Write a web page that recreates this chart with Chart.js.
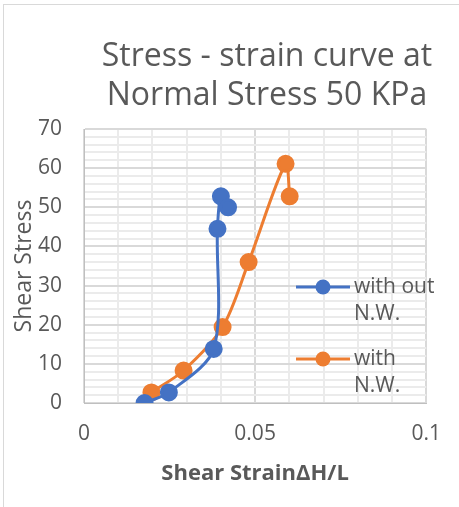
<!DOCTYPE html>
<html>
<head>
<meta charset="utf-8">
<script src="https://cdn.jsdelivr.net/npm/chart.js@4.4.1/dist/chart.umd.min.js"></script>
<style>
  html, body { margin: 0; padding: 0; background: #fff; }
  #wrap { position: relative; width: 459px; height: 507px; }
  #frame { position: absolute; left: 3px; top: 4px; width: 460px; height: 510px; border: 1px solid #d9d9d9; box-sizing: border-box; }
</style>
</head>
<body>
<div id="wrap">
  <div id="frame"></div>
  <canvas id="grafica" width="459" height="507"></canvas>
</div>
<script>
const FONT = "'Open Sans', 'Noto Sans', sans-serif"

//? Datos
const tituloLineas = ['Stress - strain curve at', 'Normal Stress 50 KPa']
const nombreSerie1 = ['with out', 'N.W.']
const nombreSerie2 = ['with', 'N.W.']

const strainSin = [0.0177, 0.0248, 0.0379, 0.0390, 0.0400, 0.0421]
const stressSin = [0, 2.7, 13.8, 44.5, 52.8, 50.0]

const strainCon = [0.0197, 0.0291, 0.0405, 0.0481, 0.0589, 0.0601]
const stressCon = [2.7, 8.3, 19.4, 36.0, 61.1, 52.8]

const xTicks = [0, 0.05, 0.1]
const yTicks = [0, 10, 20, 30, 40, 50, 60, 70]

const azul = '#4472c4'
const naranja = '#ed7d31'

const puntos = (xs, ys) => xs.map((x, i) => ({ x: x, y: ys[i] }))

//? Titulo y leyenda dibujados a mano (la leyenda va encima del area)
const extras = {
    id: 'extras',
    afterDraw(chart) {
        const ctx = chart.ctx
        ctx.save()
        ctx.fillStyle = '#595959'
        ctx.font = '32px ' + FONT
        ctx.textAlign = 'center'
        ctx.textBaseline = 'alphabetic'
        ctx.fillText(tituloLineas[0], 267, 66)
        ctx.fillText(tituloLineas[1], 267, 105)

        const items = [
            { color: azul, texto: nombreSerie1, y: 287 },
            { color: naranja, texto: nombreSerie2, y: 359 }
        ]
        items.forEach(it => {
            ctx.strokeStyle = it.color
            ctx.lineWidth = 3
            ctx.beginPath()
            ctx.moveTo(296, it.y)
            ctx.lineTo(350, it.y)
            ctx.stroke()
            ctx.fillStyle = it.color
            ctx.beginPath()
            ctx.arc(323, it.y, 7.5, 0, Math.PI * 2)
            ctx.fill()
            ctx.fillStyle = '#595959'
            ctx.font = '21px ' + FONT
            ctx.textAlign = 'left'
            ctx.textBaseline = 'middle'
            ctx.fillText(it.texto[0], 354, it.y)
            ctx.fillText(it.texto[1], 354, it.y + 27)
        })
        ctx.restore()
    }
}

const lienzo = document.getElementById('grafica')

const grafica = new Chart(lienzo, {
    type: 'scatter',
    data: {
        datasets: [
            {
                label: nombreSerie1.join(' '),
                data: puntos(strainSin, stressSin),
                showLine: true,
                borderColor: azul,
                backgroundColor: azul,
                borderWidth: 3,
                pointRadius: 7.5,
                pointHoverRadius: 7.5,
                tension: 0.3
            },
            {
                label: nombreSerie2.join(' '),
                data: puntos(strainCon, stressCon),
                showLine: true,
                borderColor: naranja,
                backgroundColor: naranja,
                borderWidth: 3,
                pointRadius: 7.5,
                pointHoverRadius: 7.5,
                tension: 0.3
            }
        ]
    },
    options: {
        responsive: false,
        animation: false,
        layout: { padding: { top: 129, right: 31, bottom: 20, left: 0 } },
        plugins: {
            legend: { display: false },
            tooltip: { enabled: false }
        },
        scales: {
            x: {
                type: 'linear',
                min: 0,
                max: 0.1,
                afterFit: s => { s.height = 84 },
                afterBuildTicks: s => {
                    s.ticks = Array.from({ length: 11 }, (_, i) => ({ value: i / 100 }))
                },
                border: { color: '#bfbfbf', width: 1 },
                grid: {
                    drawTicks: false,
                    color: c => (Math.round(c.tick.value * 100) % 5 === 0 ? '#d9d9d9' : '#ebebeb'),
                    lineWidth: 2
                },
                ticks: {
                    padding: 18,
                    autoSkip: false,
                    maxRotation: 0,
                    minRotation: 0,
                    color: '#595959',
                    font: { family: FONT, size: 21 },
                    callback: v => {
                        const k = xTicks.find(t => Math.abs(t - v) < 1e-9)
                        return k === undefined ? '' : String(k)
                    }
                },
                title: {
                    display: true,
                    text: 'Shear StrainΔH/L',
                    color: '#595959',
                    font: { family: FONT, size: 22, weight: 'bold' },
                    padding: { top: 10, bottom: 0 }
                }
            },
            y: {
                type: 'linear',
                min: 0,
                max: 70,
                afterFit: s => { s.width = 84 },
                afterBuildTicks: s => {
                    s.ticks = Array.from({ length: 36 }, (_, i) => ({ value: i * 2 }))
                },
                border: { color: '#bfbfbf', width: 1 },
                grid: {
                    drawTicks: false,
                    color: c => (c.tick.value % 10 === 0 ? '#d9d9d9' : '#ebebeb'),
                    lineWidth: 2
                },
                ticks: {
                    padding: 22,
                    autoSkip: false,
                    color: '#595959',
                    font: { family: FONT, size: 21 },
                    callback: v => (yTicks.includes(v) ? String(v) : '')
                },
                title: {
                    display: true,
                    text: 'Shear Stress',
                    color: '#595959',
                    font: { family: FONT, size: 23 },
                    padding: { top: 11, bottom: 0 }
                }
            }
        }
    },
    plugins: [extras]
})
</script>
</body>
</html>
